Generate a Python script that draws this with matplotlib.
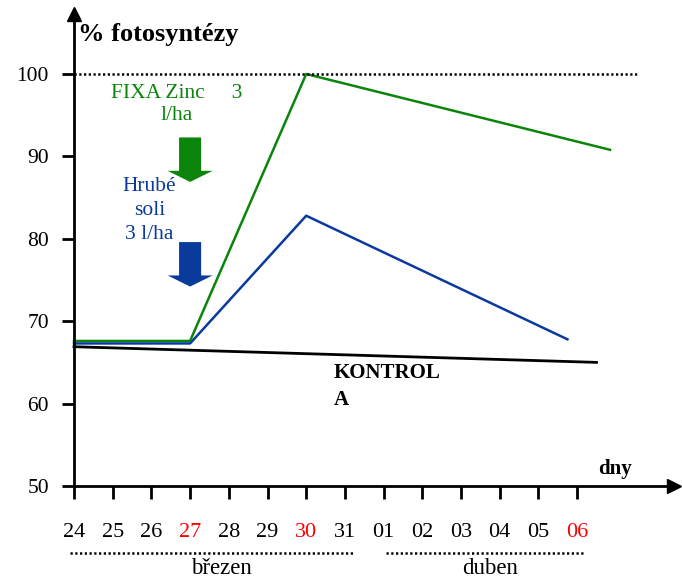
import matplotlib.pyplot as plt
import numpy as np

plt.rcParams['font.family'] = ['Liberation Serif', 'DejaVu Serif']

# x axis: days 24.3. - 06.4.
day_labels = ["24", "25", "26", "27", "28", "29", "30", "31",
              "01", "02", "03", "04", "05", "06"]
red_days = ["27", "30", "06"]
y_ticks = [50, 60, 70, 80, 90, 100]

# series (x = day index from 24.3.)
fixa_x = [0, 3, 6, 13.85]
fixa_y = [67.6, 67.6, 100, 90.8]
hrube_x = [0, 3, 6, 12.75]
hrube_y = [67.3, 67.3, 82.8, 67.8]
kontrola_x = [0, 13.5]
kontrola_y = [66.9, 65.0]

green = "#0b840b"
blue = "#0a3a9c"

fig = plt.figure(figsize=(6.82, 5.79), dpi=100)
ax = fig.add_axes([0, 0, 1, 1])
ax.set_xlim(-1.912, 15.71)
ax.set_ylim(38.71, 108.98)

ax.plot(fixa_x, fixa_y, color=green, lw=1.8)
ax.plot(hrube_x, hrube_y, color=blue, lw=1.8)
ax.plot(kontrola_x, kontrola_y, color="black", lw=2.0)
ax.plot([0, 14.6], [100, 100], color="black", lw=1.8, ls=(0, (0.9, 1.0)))

# axes as arrows
for s in ["top", "right"]:
    ax.spines[s].set_visible(False)
ax.spines["left"].set_position(("data", 0))
ax.spines["bottom"].set_position(("data", 50))
ax.spines["left"].set_bounds(50, 106.5)
ax.spines["bottom"].set_bounds(0, 15.3)
ax.spines["left"].set_linewidth(2)
ax.spines["bottom"].set_linewidth(2)
ax.plot([0], [107.3], marker="^", color="black", ms=10, clip_on=False)
ax.plot([15.5], [50], marker=">", color="black", ms=10, clip_on=False)

ax.set_yticks(y_ticks)
ax.set_yticklabels([str(v) for v in y_ticks], fontsize=15.5)
ax.tick_params(axis="y", direction="out", length=9, width=2, pad=9)
ax.set_xticks(np.arange(len(day_labels)))
ax.set_xticklabels(day_labels, fontsize=16)
ax.tick_params(axis="x", direction="out", length=9, width=2, pad=18)
for lab in ax.get_xticklabels():
    if lab.get_text() in red_days:
        lab.set_color("red")

# month groups
ax.plot([-0.1, 7.2], [41.9, 41.9], color="black", lw=1.8, ls=(0, (0.9, 1.0)), clip_on=False)
ax.plot([8.05, 13.2], [41.9, 41.9], color="black", lw=1.8, ls=(0, (0.9, 1.0)), clip_on=False)
ax.text(3.8, 39.95, "březen", fontsize=16.5, ha="center", va="center")
ax.text(10.75, 39.95, "duben", fontsize=16.5, ha="center", va="center")

ax.text(0.1, 104.8, "% fotosyntézy", fontsize=19, fontweight="bold", ha="left", va="center")
ax.text(13.55, 50.8, "dny", fontsize=15, fontweight="bold", ha="left", va="bottom")
ax.text(6.7, 62.1, "KONTROL\nA", fontsize=15, fontweight="bold", ha="left", va="center",
        linespacing=1.5)

ax.text(2.65, 96.3, "FIXA Zinc     3\nl/ha", fontsize=15.5, color=green, ha="center",
        va="center", linespacing=1.2)
ax.text(1.95, 83.4, "Hrubé\nsoli\n3 l/ha", fontsize=15.5, color=blue, ha="center",
        va="center", linespacing=1.35)

ax.arrow(3.0, 92.3, 0, -5.4, width=0.57, head_width=1.16, head_length=1.35,
         length_includes_head=True, color=green, lw=0)
ax.arrow(3.0, 79.6, 0, -5.4, width=0.57, head_width=1.16, head_length=1.35,
         length_includes_head=True, color=blue, lw=0)

fig.savefig("out.png", dpi=100)
